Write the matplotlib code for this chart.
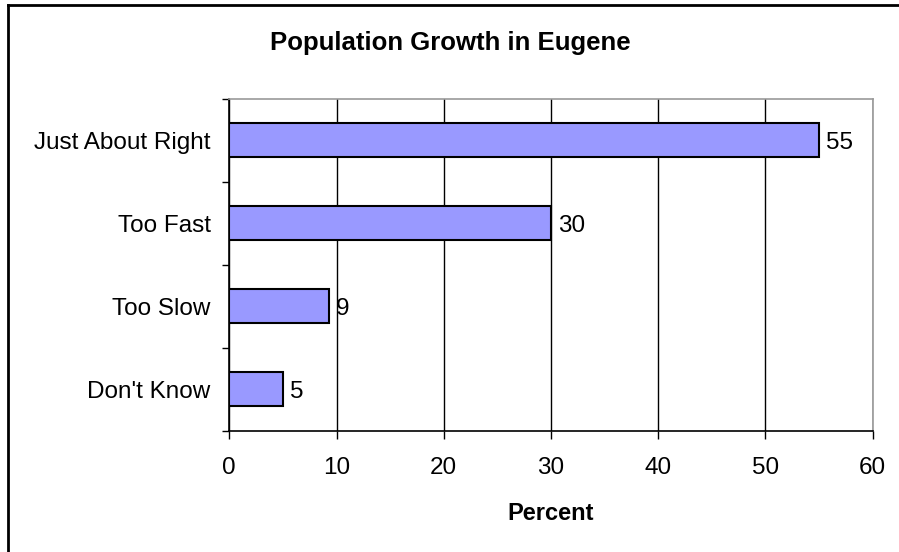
import matplotlib
matplotlib.use("Agg")
import matplotlib.pyplot as plt
from matplotlib.lines import Line2D

categories = ["Just About Right", "Too Fast", "Too Slow", "Don't Know"]
values = [55, 30, 9.3, 5]
labels = ["55", "30", "9", "5"]
xticks = [0, 10, 20, 30, 40, 50, 60]

plt.rcParams['font.family'] = ['Liberation Sans', 'DejaVu Sans']

fig = plt.figure(figsize=(8.99, 5.52), dpi=100)
W, H = 899, 552
ax = fig.add_axes([229.3 / W, 1 - 431 / H, (872.7 - 229.3) / W, (431 - 98.7) / H])

FS = 17.5
n = len(categories)
ypos = list(range(n))[::-1]
bars = ax.barh(ypos, values, height=0.41, color="#9999FF", edgecolor="black", linewidth=1.5, zorder=3)
for b, lab in zip(bars, labels):
    ax.annotate(lab, (b.get_width(), b.get_y() + b.get_height() / 2), xytext=(5, -2),
                textcoords="offset points", va="center", ha="left", fontsize=FS)

ax.set_xlim(0, 60)
ax.set_ylim(-0.5, n - 0.5)
ax.set_xticks(xticks)
ax.set_xticklabels([str(t) for t in xticks], fontsize=FS)
ax.set_yticks(ypos)
ax.set_yticklabels(categories, fontsize=FS)
ax.set_yticks([i - 0.5 for i in range(n + 1)], minor=True)
ax.tick_params(axis="y", which="major", length=0, pad=13.5)
ax.tick_params(axis="y", which="minor", length=5, width=1, direction="out")
ax.tick_params(axis="x", which="major", length=6, width=1, direction="out", pad=13)
ax.xaxis.grid(True, color="black", linewidth=1, zorder=0)
ax.set_axisbelow(True)
for s in ["top", "right"]:
    ax.spines[s].set_color("#999999")
    ax.spines[s].set_linewidth(1.2)
for s in ["left", "bottom"]:
    ax.spines[s].set_color("black")
    ax.spines[s].set_linewidth(1.2)

ax.set_xlabel("Percent", fontsize=17, fontweight="bold", labelpad=16)
fig.text(450 / W, 1 - 43 / H, "Population Growth in Eugene", ha="center", va="center",
         fontsize=18.5, fontweight="bold")

# figure border (left and top edges visible)
fig.add_artist(Line2D([7.5 / W, 7.5 / W], [0, 1 - 5 / H], color="black", linewidth=2, transform=fig.transFigure))
fig.add_artist(Line2D([7.5 / W, 1], [1 - 5 / H, 1 - 5 / H], color="black", linewidth=2, transform=fig.transFigure))

fig.savefig("out.png", dpi=100)
